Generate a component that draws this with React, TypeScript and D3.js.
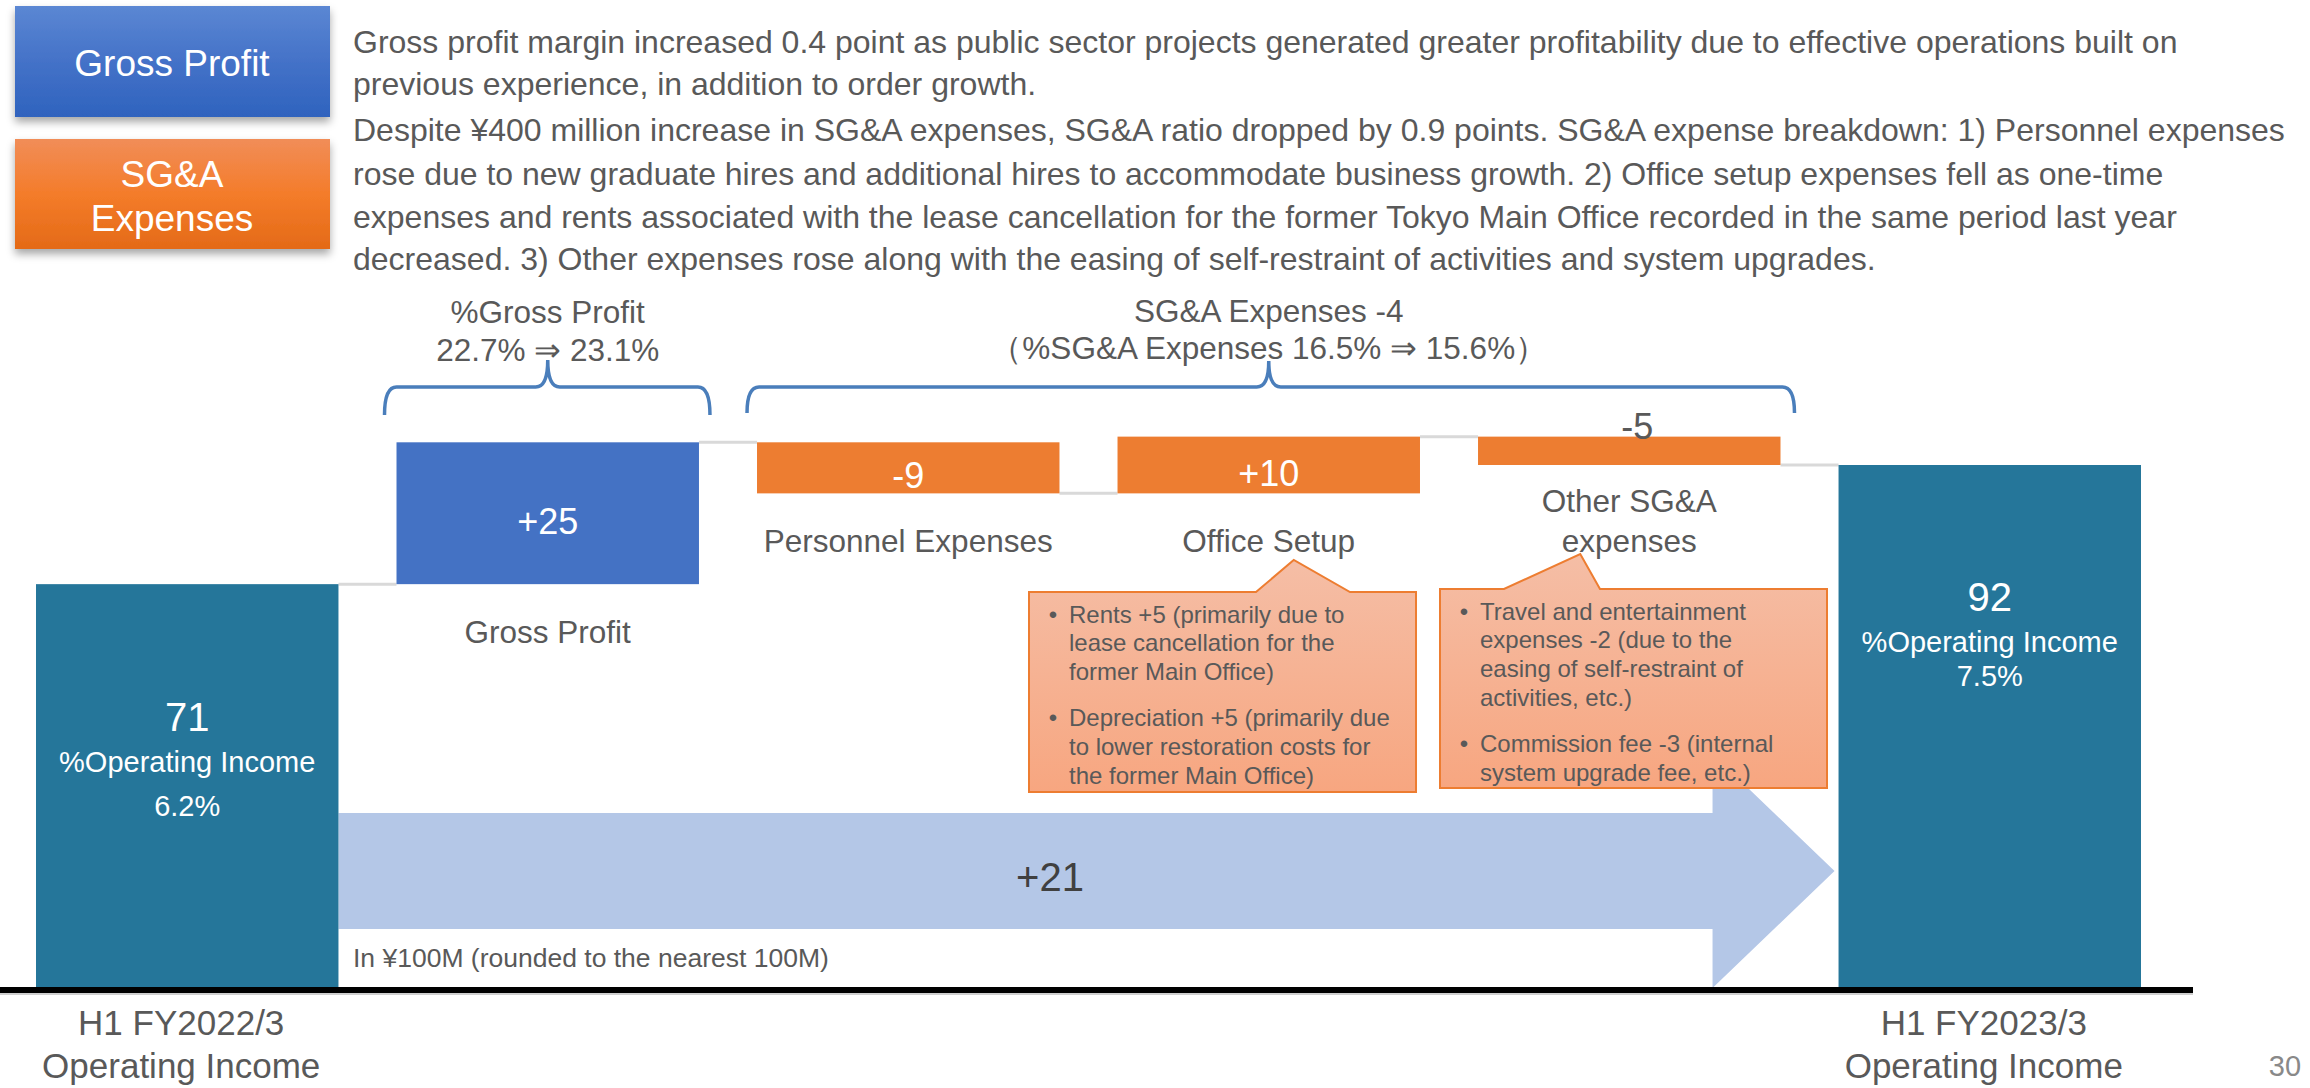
import * as React from "react";
import * as d3 from "d3";

// waterfall steps (in ¥100M)
const steps = [
  "H1 FY2022/3 Operating Income",
  "Gross Profit",
  "Personnel Expenses",
  "Office Setup",
  "Other SG&A expenses",
  "H1 FY2023/3 Operating Income",
];
const stepKinds = ["total", "gp", "sga", "sga", "sga", "total"];
const stepValues = [71, 25, -9, 10, -5, 92];
const valueLabels = ["71", "+25", "-9", "+10", "-5", "92"];
const marginLabels = ["%Operating Income", "", "", "", "", "%Operating Income"];
const marginValues = ["6.2%", "", "", "", "", "7.5%"];
const catLabelLines = [
  [],
  ["Gross Profit"],
  ["Personnel Expenses"],
  ["Office Setup"],
  ["Other SG&A", "expenses"],
  [],
];
const axisLabelLines = [["H1 FY2022/3", "Operating Income"], ["H1 FY2023/3", "Operating Income"]];

const paragraphLines = [
  "Gross profit margin increased 0.4 point as public sector projects generated greater profitability due to effective operations built on",
  "previous experience, in addition to order growth.",
  "Despite ¥400 million increase in SG&A expenses, SG&A ratio dropped by 0.9 points. SG&A expense breakdown: 1) Personnel expenses",
  "rose due to new graduate hires and additional hires to accommodate business growth. 2) Office setup expenses fell as one-time",
  "expenses and rents associated with the lease cancellation for the former Tokyo Main Office recorded in the same period last year",
  "decreased. 3) Other expenses rose along with the easing of self-restraint of activities and system upgrades.",
];
const paragraphY = [42, 84, 130, 174, 217, 259];

const braceGP = ["%Gross Profit", "22.7% ⇒ 23.1%"];
const braceSGA = ["SG&A Expenses -4", "（%SG&A Expenses 16.5% ⇒ 15.6%）"];

const officeNotes = [
  ["Rents +5 (primarily due to", "lease cancellation for the", "former Main Office)"],
  ["Depreciation +5 (primarily due", "to lower restoration costs for", "the former Main Office)"],
];
const otherNotes = [
  ["Travel and entertainment", "expenses -2 (due to the", "easing of self-restraint of", "activities, etc.)"],
  ["Commission fee -3 (internal", "system upgrade fee, etc.)"],
];
const unitNote = "In ¥100M (rounded to the nearest 100M)";

const FONT = "'Liberation Sans', Arial, sans-serif";
const GRAY = "#595959";
const TEAL = "#25769a";
const BLUE = "#4472c4";
const ORANGE = "#ed7d31";

// build the waterfall
let run = 0;
const bars = steps.map((s, i) => {
  const v = stepValues[i];
  let y0, y1;
  if (stepKinds[i] === "total") {
    y0 = 0;
    y1 = v;
    run = v;
  } else {
    y0 = run;
    y1 = run + v;
    run = y1;
  }
  return { key: s, kind: stepKinds[i], y0, y1, end: y1 };
});

function bracePath(x0, x1, xc, yb, yh, yp) {
  const r = 12;
  return `M${x0},${yb} Q${x0},${yh} ${x0 + r},${yh} L${xc - r},${yh} Q${xc},${yh} ${xc},${yp} Q${xc},${yh} ${xc + r},${yh} L${x1 - r},${yh} Q${x1},${yh} ${x1},${yb}`;
}

function Callout({ x, y, w, h, px0, px1, ax, ay, notes }) {
  const d = `M${x},${y} L${px0},${y} L${ax},${ay} L${px1},${y} L${x + w},${y} L${x + w},${y + h} L${x},${y + h} Z`;
  let li = 0;
  const rows = [];
  notes.forEach((lines, bi) => {
    lines.forEach((t, k) => {
      const ty = y + 22 + 28.8 * li + 17 * bi;
      if (k === 0)
        rows.push(
          <text key={`b${bi}`} x={x + 24} y={ty} fontSize={24} fill={GRAY} textAnchor="middle" dominantBaseline="central">
            •
          </text>
        );
      rows.push(
        <text key={`t${bi}-${k}`} x={x + 40} y={ty} fontSize={24} fill={GRAY} dominantBaseline="central">
          {t}
        </text>
      );
      li++;
    });
  });
  return (
    <g>
      <path d={d} fill="url(#calloutFill)" stroke={ORANGE} strokeWidth={2} />
      {rows}
    </g>
  );
}

export default function App() {
  const x = d3.scaleBand().domain(steps).range([36, 2141]).paddingInner(0.161).paddingOuter(0);
  const y = d3.scaleLinear().domain([0, 92]).range([987, 465]);
  const bw = x.bandwidth();
  const cx = (s) => x(s) + bw / 2;

  const first = steps[0];
  const last = steps[steps.length - 1];
  const arrowX0 = x(first) + bw;
  const arrowTip = x(last) - 4;
  const headX = arrowTip - 122;
  const arrowMid = 871;
  const growth = stepValues[5] - stepValues[0];

  const fill = (k) => (k === "total" ? TEAL : k === "gp" ? BLUE : ORANGE);

  return (
    <svg width={2310} height={1088} style={{ position: "absolute", left: 0, top: 0, background: "#fff" }} fontFamily={FONT}>
      <defs>
        <linearGradient id="gpBox" x1="0" y1="0" x2="0" y2="1">
          <stop offset="0" stopColor="#5b87d3" />
          <stop offset="0.5" stopColor="#4472c8" />
          <stop offset="1" stopColor="#2f63be" />
        </linearGradient>
        <linearGradient id="sgaBox" x1="0" y1="0" x2="0" y2="1">
          <stop offset="0" stopColor="#f18d58" />
          <stop offset="0.5" stopColor="#f47c2a" />
          <stop offset="1" stopColor="#e46a17" />
        </linearGradient>
        <linearGradient id="calloutFill" x1="0" y1="0" x2="0" y2="1">
          <stop offset="0" stopColor="#f5bea6" />
          <stop offset="1" stopColor="#f7a680" />
        </linearGradient>
        <filter id="shadow" x="-10%" y="-10%" width="120%" height="130%">
          <feDropShadow dx="0" dy="5" stdDeviation="4" floodColor="#000" floodOpacity="0.35" />
        </filter>
      </defs>

      {/* legend boxes */}
      <rect x={15} y={6} width={315} height={111} fill="url(#gpBox)" filter="url(#shadow)" />
      <text x={172} y={63} fontSize={37} fill="#fff" textAnchor="middle" dominantBaseline="central">
        Gross Profit
      </text>
      <rect x={15} y={139} width={315} height={110} fill="url(#sgaBox)" filter="url(#shadow)" />
      <text x={172} y={174} fontSize={37} fill="#fff" textAnchor="middle" dominantBaseline="central">
        SG&amp;A
      </text>
      <text x={172} y={218} fontSize={37} fill="#fff" textAnchor="middle" dominantBaseline="central">
        Expenses
      </text>

      {/* commentary */}
      {paragraphLines.map((t, i) => (
        <text key={i} x={353} y={paragraphY[i]} fontSize={32} fill={GRAY} dominantBaseline="central">
          {t}
        </text>
      ))}

      {/* braces */}
      <path
        d={bracePath(x(steps[1]) - 12, x(steps[1]) + bw + 11, cx(steps[1]), 415, 387, 360)}
        fill="none"
        stroke="#4a7ebb"
        strokeWidth={3.5}
      />
      <path
        d={bracePath(x(steps[2]) - 10, x(steps[4]) + bw + 14, cx(steps[3]), 413, 387, 361)}
        fill="none"
        stroke="#4a7ebb"
        strokeWidth={3.5}
      />
      {braceGP.map((t, i) => (
        <text key={i} x={cx(steps[1])} y={312 + 38 * i} fontSize={31.5} fill={GRAY} textAnchor="middle" dominantBaseline="central">
          {t}
        </text>
      ))}
      {braceSGA.map((t, i) => (
        <text key={i} x={cx(steps[3])} y={311 + 37 * i} fontSize={31.5} fill={GRAY} textAnchor="middle" dominantBaseline="central">
          {t}
        </text>
      ))}

      {/* growth arrow */}
      <path
        d={`M${arrowX0},${arrowMid - 58} L${headX},${arrowMid - 58} L${headX},${arrowMid - 117} L${arrowTip},${arrowMid} L${headX},${arrowMid + 117} L${headX},${arrowMid + 58} L${arrowX0},${arrowMid + 58} Z`}
        fill="#b4c7e7"
      />
      <text x={1050} y={877} fontSize={40} fill="#404040" textAnchor="middle" dominantBaseline="central">
        {`+${growth}`}
      </text>
      <text x={353} y={958} fontSize={26.5} fill={GRAY} dominantBaseline="central">
        {unitNote}
      </text>

      {/* connectors */}
      {bars.slice(0, -1).map((b, i) => (
        <line
          key={i}
          x1={x(b.key) + bw}
          x2={x(bars[i + 1].key)}
          y1={y(b.end)}
          y2={y(b.end)}
          stroke="#d9d9d9"
          strokeWidth={3}
        />
      ))}

      {/* bars */}
      {bars.map((b) => (
        <rect
          key={b.key}
          x={x(b.key)}
          y={y(Math.max(b.y0, b.y1))}
          width={bw}
          height={Math.abs(y(b.y0) - y(b.y1))}
          fill={fill(b.kind)}
        />
      ))}

      {/* bar values */}
      {bars.map((b, i) => {
        if (b.kind === "total") {
          const top = i === 0 ? 717 : 597;
          const gap2 = i === 0 ? 44 : 34;
          return (
            <g key={b.key} fill="#fff" textAnchor="middle">
              <text x={cx(b.key)} y={top} fontSize={40} dominantBaseline="central">
                {valueLabels[i]}
              </text>
              <text x={cx(b.key)} y={top + 45} fontSize={29} dominantBaseline="central">
                {marginLabels[i]}
              </text>
              <text x={cx(b.key)} y={top + 45 + gap2} fontSize={29} dominantBaseline="central">
                {marginValues[i]}
              </text>
            </g>
          );
        }
        const h = Math.abs(y(b.y0) - y(b.y1));
        const midY = (y(b.y0) + y(b.y1)) / 2;
        const inside = h > 40;
        return (
          <text
            key={b.key}
            x={cx(b.key) + (inside ? 0 : 8)}
            y={inside ? midY + 8 : y(Math.max(b.y0, b.y1)) - 10}
            fontSize={36}
            fill={inside ? "#fff" : GRAY}
            textAnchor="middle"
            dominantBaseline="central"
          >
            {valueLabels[i]}
          </text>
        );
      })}

      {/* category labels */}
      {bars.map((b, i) =>
        catLabelLines[i].map((t, k) => {
          const bottom = Math.max(y(b.y0), y(b.y1));
          const ly = i === 4 ? bottom + 36 + 40 * k : bottom + 48;
          return (
            <text key={`${i}-${k}`} x={cx(b.key)} y={ly} fontSize={31.5} fill={GRAY} textAnchor="middle" dominantBaseline="central">
              {t}
            </text>
          );
        })
      )}

      {/* callouts */}
      <Callout x={1029} y={592} w={387} h={200} px0={1256} px1={1350} ax={cx(steps[3]) + 25} ay={560} notes={officeNotes} />
      <Callout x={1440} y={589} w={387} h={199} px0={1504} px1={1600} ax={cx(steps[4]) - 49} ay={554} notes={otherNotes} />

      {/* baseline */}
      <line x1={0} x2={2193} y1={990} y2={990} stroke="#000" strokeWidth={6} />
      <line x1={0} x2={2193} y1={994} y2={994} stroke="#bfbfbf" strokeWidth={1.5} />

      {/* axis labels */}
      {[first, last].map((s, i) =>
        axisLabelLines[i].map((t, k) => (
          <text key={`${i}-${k}`} x={cx(s) - 6} y={1022 + 43 * k} fontSize={35} fill={GRAY} textAnchor="middle" dominantBaseline="central">
            {t}
          </text>
        ))
      )}

      <text x={2285} y={1066} fontSize={29} fill="#898989" textAnchor="middle" dominantBaseline="central">
        30
      </text>
    </svg>
  );
}
